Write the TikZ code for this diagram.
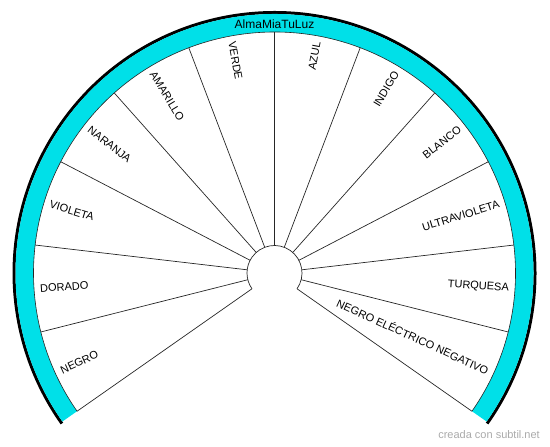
\documentclass[tikz,border=0pt]{standalone}
\usepackage{fontspec}
\setmainfont{Liberation Sans}
\definecolor{bandcyan}{RGB}{0,224,232}
\definecolor{wmgray}{RGB}{170,170,170}
\begin{document}
\begin{tikzpicture}[x=1pt,y=1pt,
  lbl/.style={font=\fontsize{11}{13}\selectfont, inner sep=0pt},
  spoke/.style={draw=black!85, line width=0.7pt}]
\useasboundingbox (0,0) rectangle (550,-447);
\coordinate (c) at (274.5,-273);
% outer black rim
\draw[line width=3pt] ([shift={(-35.3:260.5)}]c) arc[start angle=-35.3, end angle=215.3, radius=260.5];
% cyan band
\fill[bandcyan] ([shift={(-35:259)}]c) arc[start angle=-35, end angle=215, radius=259]
   -- ([shift={(215:241)}]c) arc[start angle=215, end angle=-35, radius=241] -- cycle;
\draw[black!85, line width=0.6pt] ([shift={(-35:241)}]c) arc[start angle=-35, end angle=215, radius=241];
% hub
\draw[spoke] ([shift={(-35:27.5)}]c) arc[start angle=-35, end angle=215, radius=27.5];
% spokes
\foreach \k in {-6,...,6}{
  \pgfmathsetmacro{\ang}{90+\k*250/12}
  \draw[spoke] ([shift={(\ang:27.5)}]c) -- ([shift={(\ang:241)}]c);
}
% title
\node[font=\fontsize{12}{14}\selectfont, inner sep=0pt] (title) at (274.5,-24.5) {AlmaMiaTuLuz};
% labels: left side (anchor west, reading toward the hub)
\foreach \i/\t in {0/NEGRO,1/DORADO,2/VIOLETA,3/NARANJA,4/AMARILLO,5/VERDE}{
  \pgfmathsetmacro{\ang}{215-(\i+0.5)*250/12}
  \pgfmathsetmacro{\rot}{\ang-180}
  \node[lbl, anchor=west, rotate=\rot] (L\i) at ([shift={(\ang:235)}]c) {\t};
}
% right side (anchor east)
\foreach \i/\t in {0/{NEGRO ELÉCTRICO NEGATIVO},1/TURQUESA,2/ULTRAVIOLETA,3/BLANCO,4/INDIGO,5/AZUL}{
  \pgfmathsetmacro{\ang}{-35+(\i+0.5)*250/12}
  \node[lbl, anchor=east, rotate=\ang] (R\i) at ([shift={(\ang:235)}]c) {\t};
}
% watermark
\node[font=\fontsize{11}{13}\selectfont, text=wmgray, anchor=east, inner sep=0pt] (wm) at (540,-435) {creada con subtil.net};
\end{tikzpicture}
\end{document}
